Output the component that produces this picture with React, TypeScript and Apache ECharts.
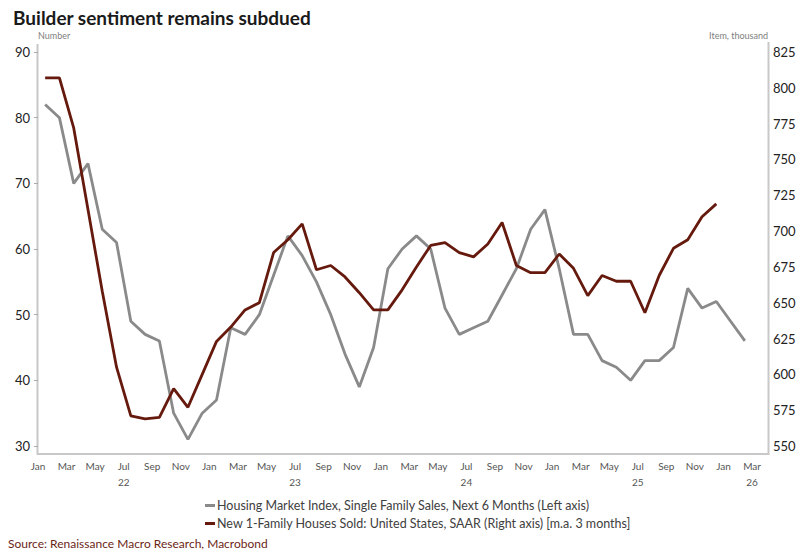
import React, { useEffect, useRef } from "react";
import * as echarts from "echarts";

const months = [
  "2022-01","2022-02","2022-03","2022-04","2022-05","2022-06","2022-07","2022-08","2022-09","2022-10","2022-11","2022-12",
  "2023-01","2023-02","2023-03","2023-04","2023-05","2023-06","2023-07","2023-08","2023-09","2023-10","2023-11","2023-12",
  "2024-01","2024-02","2024-03","2024-04","2024-05","2024-06","2024-07","2024-08","2024-09","2024-10","2024-11","2024-12",
  "2025-01","2025-02","2025-03","2025-04","2025-05","2025-06","2025-07","2025-08","2025-09","2025-10","2025-11","2025-12",
  "2026-01","2026-02",
];

const monthAbbr = ["Jan","Feb","Mar","Apr","May","Jun","Jul","Aug","Sep","Oct","Nov","Dec"];

// Housing Market Index, Single Family Sales, Next 6 Months (left axis)
const hmiNext6 = [
  82, 80, 70, 73, 63, 61, 49, 47, 46, 35, 31, 35,
  37, 48, 47, 50, 56, 62, 59, 55, 50, 44, 39, 45,
  57, 60, 62, 60, 51, 47, 48, 49, 53, 57, 63, 66,
  57, 47, 47, 43, 42, 40, 43, 43, 45, 54, 51, 52,
  49, 46,
];

// New 1-Family Houses Sold, SAAR, thousands, 3m avg (right axis)
const newHomeSales = [
  807, 807, 772, 715, 658, 605, 571, 569, 570, 590, 577, 600,
  623, 633, 645, 650, 685, 694, 705, 673, 676, 668, 657, 645,
  645, 659, 675, 690, 692, 685, 682, 691, 706, 676, 671, 671,
  684, 674, 655, 669, 665, 665, 643, 669, 688, 694, 710, 719,
];

const leftTicks = { min: 30, max: 90, interval: 10 };
const rightTicks = { min: 550, max: 825, interval: 25 };
const lastMonthLabelIndex = 50; // Mar 2026
const xMax = 51.12;

const seriesNames = [
  "Housing Market Index, Single Family Sales, Next 6 Months (Left axis)",
  "New 1-Family Houses Sold: United States, SAAR (Right axis) [m.a. 3 months]",
];

const FONT = "Lato, 'Open Sans', sans-serif";

function toPoints(values: number[]) {
  return values.map((v, i) => {
    const [y, m] = months[i].split("-").map(Number);
    const idx = (y - 2022) * 12 + (m - 1);
    return [idx + 0.5, v];
  });
}

export default function App() {
  const ref = useRef<HTMLDivElement>(null);

  useEffect(() => {
    if (!ref.current) return;
    const chart = echarts.init(ref.current, undefined, { renderer: "svg" });
    chart.setOption({
      animation: false,
      textStyle: { fontFamily: FONT },
      title: {
        text: "Builder sentiment remains subdued",
        left: 8,
        top: 3,
        textStyle: { fontFamily: FONT, fontSize: 19, fontWeight: "bold", color: "#1a1a1a" },
      },
      grid: { left: 38, right: 36, top: 52, bottom: 108, containLabel: false },
      legend: {
        orient: "vertical",
        left: 200,
        top: 494,
        icon: "rect",
        itemWidth: 10,
        itemHeight: 3,
        itemGap: 5,
        textStyle: { fontFamily: FONT, fontSize: 12.5, color: "#404040", padding: [0, 0, 0, -3] },
        data: seriesNames,
      },
      xAxis: {
        type: "value",
        min: 0,
        max: xMax,
        interval: 2,
        axisLine: { show: false },
        axisTick: { show: false },
        splitLine: { show: false },
        axisLabel: {
          margin: 12,
          fontSize: 10,
          color: "#555",
          lineHeight: 16,
          showMaxLabel: false,
          formatter: (value: number) => {
            const idx = Math.round(value);
            if (Math.abs(value - idx) > 1e-6 || idx % 2 !== 0) return "";
            const m = idx % 12;
            const yr = 22 + Math.floor(idx / 12);
            let s = monthAbbr[m];
            if (m === 6 || idx === lastMonthLabelIndex) s += "\n" + yr;
            return s;
          },
        },
      },
      yAxis: [
        {
          type: "value",
          position: "left",
          ...leftTicks,
          name: "Number",
          nameLocation: "end",
          nameGap: 12,
          nameTextStyle: { fontSize: 9, color: "#808080", align: "left", verticalAlign: "bottom" },
          axisLine: { show: false },
          axisTick: { show: true, length: 4, lineStyle: { color: "#aaa", width: 1 } },
          splitLine: { show: false },
          axisLabel: { fontSize: 13, color: "#222", margin: 8 },
        },
        {
          type: "value",
          position: "right",
          ...rightTicks,
          name: "Item, thousand",
          nameLocation: "end",
          nameGap: 12,
          nameTextStyle: { fontSize: 9, color: "#808080", align: "right", verticalAlign: "bottom" },
          axisLine: { show: false },
          axisTick: { show: false },
          splitLine: { show: false },
          axisLabel: { fontSize: 13, color: "#222", margin: 5 },
        },
      ],
      series: [
        {
          name: seriesNames[0],
          type: "line",
          yAxisIndex: 0,
          data: toPoints(hmiNext6),
          showSymbol: false,
          symbol: "none",
          lineStyle: { color: "#8a8a8a", width: 2.8 },
          itemStyle: { color: "#8a8a8a" },
          z: 2,
        },
        {
          name: seriesNames[1],
          type: "line",
          yAxisIndex: 1,
          data: toPoints(newHomeSales),
          showSymbol: false,
          symbol: "none",
          lineStyle: { color: "#661a0e", width: 2.8 },
          itemStyle: { color: "#661a0e" },
          z: 3,
        },
      ],
      graphic: [
        {
          type: "polyline",
          z: 0,
          silent: true,
          shape: { points: [[37.5, 44], [37.5, 454], [768.5, 454], [768.5, 42]] },
          style: { stroke: "#c8c8c8", lineWidth: 2, fill: "none" },
        },
        {
          type: "text",
          left: 8,
          top: 537,
          style: {
            text: "Source: Renaissance Macro Research, Macrobond",
            fontFamily: FONT,
            fontSize: 12,
            fill: "#6b2616",
          },
        },
      ],
    });
    return () => chart.dispose();
  }, []);

  return (
    <div
      ref={ref}
      style={{ position: "fixed", left: 0, top: 0, width: 804, height: 554, background: "#fff" }}
    />
  );
}
